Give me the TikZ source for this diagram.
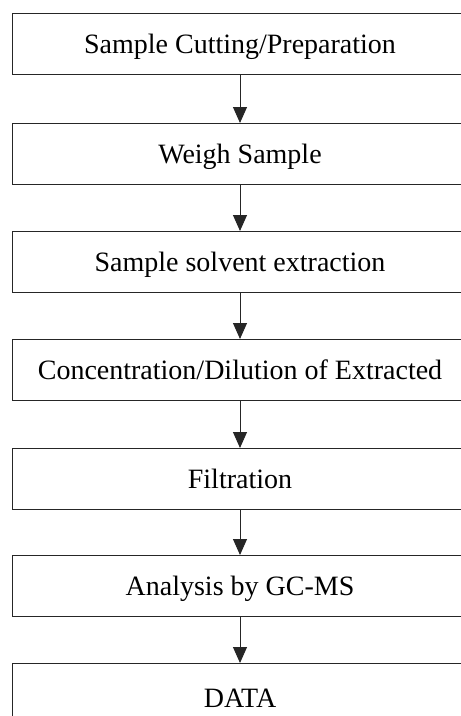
\documentclass[tikz,border=0pt]{standalone}
\usepackage{fontspec}
\setmainfont{Liberation Serif}
\usetikzlibrary{arrows.meta}
\begin{document}
\begin{tikzpicture}[x=1pt,y=1pt,
  stepbox/.style={draw=black!85, line width=1pt, minimum width=456pt, minimum height=61pt,
    inner sep=0pt, font=\fontsize{28}{30}\selectfont, text height=18.5pt, text depth=0pt, anchor=north},
  flow/.style={draw=black!85, line width=1pt, -{Triangle[width=14pt,length=16pt]}}]
\clip (0,0) rectangle (461,-716);
\node[stepbox] (b1) at (240,-13) {Sample Cutting/Preparation};
\node[stepbox] (b2) at (240,-123) {Weigh Sample};
\node[stepbox] (b3) at (240,-231) {Sample solvent extraction};
\node[stepbox] (b4) at (240,-339) {Concentration/Dilution of Extracted};
\node[stepbox] (b5) at (240,-448) {Filtration};
\node[stepbox] (b6) at (240,-555) {Analysis by GC-MS};
\node[stepbox, minimum height=70pt] (b7) at (240,-663) {DATA};
\draw[flow] (b1.south) -- (b2.north);
\draw[flow] (b2.south) -- (b3.north);
\draw[flow] (b3.south) -- (b4.north);
\draw[flow] (b4.south) -- (b5.north);
\draw[flow] (b5.south) -- (b6.north);
\draw[flow] (b6.south) -- (b7.north);
\end{tikzpicture}
\end{document}
